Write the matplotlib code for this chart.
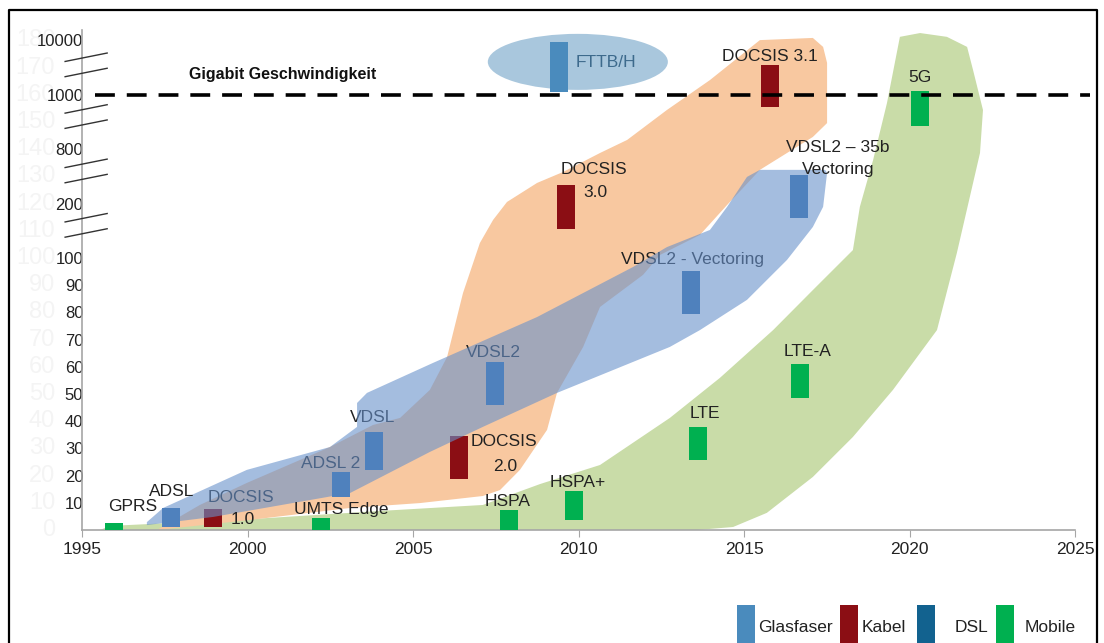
import matplotlib
matplotlib.use("Agg")
import matplotlib.pyplot as plt
from matplotlib.patches import Polygon, Ellipse, Rectangle
from matplotlib.lines import Line2D

plt.rcParams["font.family"] = ["Liberation Sans", "DejaVu Sans"]

# --- Daten -------------------------------------------------------------
# y-Achse ist eine "Anzeigeposition": 0..100 linear, darüber gestauchte Abschnitte
ytick_pos = [10, 20, 30, 40, 50, 60, 70, 80, 90, 100, 120, 140, 160, 180]
ytick_lab = ["10", "20", "30", "40", "50", "60", "70", "80", "90", "100",
             "200", "800", "1000", "10000"]
ghost_pos = list(range(0, 190, 10))
break_pos = [112, 132, 152, 171]
xticks = [1995, 2000, 2005, 2010, 2015, 2020, 2025]
gigabit_pos = 160

# Technologien (Balken)
bar_name = ["GPRS", "ADSL", "DOCSIS 1.0", "UMTS Edge", "ADSL 2", "VDSL", "DOCSIS 2.0",
            "VDSL2", "HSPA", "HSPA+", "DOCSIS 3.0", "FTTB/H", "VDSL2 - Vectoring",
            "LTE", "DOCSIS 3.1", "VDSL2 35b", "LTE-A", "5G"]
bar_year = [1995.97, 1997.69, 1998.96, 2002.22, 2002.82, 2003.82, 2006.39,
            2007.48, 2007.90, 2009.86, 2009.62, 2009.41, 2013.40,
            2013.61, 2015.79, 2016.66, 2016.69, 2020.32]
bar_low = [0, 1.1, 1.1, 0, 12.1, 22.0, 18.8, 46.0, 0, 3.7, 110.7, 161.0, 79.4,
           25.7, 155.5, 114.7, 48.5, 148.5]
bar_high = [2.6, 8.1, 7.7, 4.4, 21.3, 36.0, 34.6, 61.8, 7.4, 14.3, 126.8, 179.4, 95.2,
            37.9, 171.0, 130.5, 61.0, 161.4]
bar_tech = ["Mobile", "DSL", "Kabel", "Mobile", "DSL", "DSL", "Kabel",
            "DSL", "Mobile", "Mobile", "Kabel", "Glasfaser", "DSL",
            "Mobile", "Kabel", "DSL", "Mobile", "Mobile"]

# Beschriftungen: text, jahr, position, unter dem DSL-Band?
lab_text = ["GPRS", "ADSL", "DOCSIS", "1.0", "UMTS Edge", "ADSL 2", "VDSL",
            "DOCSIS", "2.0", "VDSL2", "HSPA", "HSPA+", "DOCSIS", "3.0", "FTTB/H",
            "VDSL2 - Vectoring", "LTE", "DOCSIS 3.1", "VDSL2 \u2013 35b", "Vectoring",
            "LTE-A", "5G"]
lab_year = [1996.54, 1997.72, 1999.80, 1999.86, 2002.82, 2002.52, 2003.79,
            2007.75, 2007.78, 2007.42, 2007.87, 2009.98, 2010.47, 2010.50, 2010.83,
            2013.43, 2013.82, 2015.79, 2017.84, 2017.84,
            2016.93, 2020.32]
lab_pos = [8.5, 14.3, 12.1, 3.7, 7.4, 24.3, 41.5,
           32.4, 23.5, 65.4, 10.3, 17.6, 132.4, 123.9, 171.7,
           99.3, 43.0, 173.9, 140.8, 132.7,
           65.8, 166.2]
lab_under = [False, False, True, False, False, True, True,
             False, False, True, False, False, False, False, False,
             True, False, False, False, False,
             False, False]

# Bänder (Jahr, Position)
kabel_x = [1997.36, 1998.56, 1999.98, 2002.49, 2003.79, 2004.61, 2005.51, 2006.03,
           2006.51, 2007.02, 2007.42, 2007.84, 2008.75, 2009.53, 2010.65, 2011.47,
           2012.67, 2013.97, 2015.48, 2017.08, 2017.39, 2017.51, 2017.51, 2017.08,
           2016.30, 2015.48, 2014.49, 2013.67, 2012.46, 2011.95, 2010.65, 2010.14,
           2009.35, 2009.05, 2008.23, 2007.63, 2007.11, 2005.21, 2003.10, 2000.08,
           1997.27]
kabel_y = [0.7, 9.2, 17.3, 30.5, 38.6, 41.2, 51.5, 63.6,
           87.1, 105.5, 114.0, 120.6, 127.6, 131.6, 138.6, 143.4,
           154.4, 165.4, 180.1, 180.9, 177.6, 171.7, 149.6, 144.5,
           138.6, 132.4, 119.5, 108.5, 101.1, 93.8, 82.0, 67.3,
           50.4, 36.8, 22.1, 14.7, 12.5, 9.9, 8.1, 3.7,
           0.0]

dsl_x = [1996.96, 1998.96, 2003.10, 2005.51, 2007.11, 2009.35, 2012.76, 2013.67,
         2015.09, 2016.30, 2017.08, 2017.39, 2017.51, 2017.45, 2015.48, 2015.09,
         2014.49, 2013.97, 2012.67, 2011.65, 2008.75, 2005.60, 2003.61, 2003.31,
         2003.31, 2002.49, 1999.98, 1997.45, 1996.96]
dsl_y = [1.8, 4.8, 13.6, 28.7, 37.9, 50.4, 67.3, 73.5,
         84.6, 99.3, 111.4, 118.8, 131.3, 132.4, 132.4, 129.8,
         118.8, 110.3, 104.0, 96.7, 78.3, 61.4, 50.4, 46.7,
         37.9, 30.5, 22.1, 8.1, 2.9]

mobil_x = [1995.54, 1995.85, 2000.08, 2004.00, 2007.11, 2008.84, 2010.65, 2012.76,
           2014.27, 2015.88, 2017.08, 2018.29, 2018.50, 2018.90, 2019.32, 2019.71,
           2020.32, 2021.13, 2021.74, 2021.92, 2022.22, 2022.13, 2021.43, 2020.83,
           2019.50, 2018.29, 2017.08, 2015.69, 2014.67, 2013.58]
mobil_y = [0, 1.5, 4.0, 7.0, 9.2, 16.9, 23.9, 41.2,
           55.9, 73.5, 88.2, 102.9, 118.8, 136.0, 157.0, 181.3,
           182.7, 181.3, 177.6, 169.1, 154.4, 138.6, 101.8, 73.5,
           51.5, 34.2, 19.5, 6.3, 1.1, 0]

# FTTB/H-Ellipse
glas_center = (2009.98, 172.1)
glas_w, glas_h = 5.44, 20.6

farben_balken = {"Glasfaser": "#4a8bbd", "Kabel": "#8b0e14",
                 "DSL": "#4f81bd", "Mobile": "#00b050"}
leg_tech = ["Glasfaser", "Kabel", "DSL", "Mobile"]
leg_farbe = ["#4a8bbd", "#8b0e14", "#12628f", "#00b050"]

# --- Figur -------------------------------------------------------------
W, H = 1104, 643
fig = plt.figure(figsize=(W / 100, H / 100), dpi=100)
ax = fig.add_axes([82 / W, 1 - 530 / H, (1075 - 82) / W, (530 - 29.5) / H])
ax.set_xlim(1995, 2025)
ax.set_ylim(0, 184)

# Bänder
ax.add_patch(Polygon(list(zip(mobil_x, mobil_y)), closed=True,
                     facecolor="#c9dca8", edgecolor="none", zorder=1))
ax.add_patch(Polygon(list(zip(kabel_x, kabel_y)), closed=True,
                     facecolor="#f8c8a0", edgecolor="none", zorder=1))
ax.add_patch(Polygon(list(zip(dsl_x, dsl_y)), closed=True,
                     facecolor="#6791cb", alpha=0.6, edgecolor="none", zorder=4))
ax.add_patch(Ellipse(glas_center, glas_w, glas_h, facecolor="#a9c7dd",
                     edgecolor="none", zorder=1))

# Balken
for yr, lo, hi, tech in zip(bar_year, bar_low, bar_high, bar_tech):
    z = 3 if tech == "Kabel" else 5
    ax.bar(yr, hi - lo, bottom=lo, width=0.55, color=farben_balken[tech],
           edgecolor="none", zorder=z)

# Beschriftungen
for t, yr, p, under in zip(lab_text, lab_year, lab_pos, lab_under):
    col = "#3d6a8c" if t == "FTTB/H" else "#222222"
    ax.text(yr, p, t, ha="center", va="center", fontsize=12.5, color=col,
            zorder=3 if under else 6)

ax.text(1998.23, 167.6, "Gigabit Geschwindigkeit", ha="left", va="center",
        fontsize=11.5, fontweight="bold", color="#111111", zorder=6)

# Gigabit-Linie
ax.plot([1995.4, 2025.45], [gigabit_pos, gigabit_pos], color="black", lw=2.6,
        dashes=(5.5, 3.3), clip_on=False, zorder=7)

# Achsenbrüche
for p in break_pos:
    for off in (-2.8, 2.8):
        ax.plot([1994.49, 1995.76], [p + off - 1.55, p + off + 1.55],
                color="#333333", lw=1, clip_on=False, zorder=7)

# blasse Hintergrund-Beschriftung (ursprüngliche lineare Achse)
for v in ghost_pos:
    ax.text(-0.027, v, str(v), transform=ax.get_yaxis_transform(), ha="right",
            va="center", fontsize=17, color="#f4f4f4", zorder=0, clip_on=False)

# Achsen
for s in ["top", "right"]:
    ax.spines[s].set_visible(False)
for s in ["left", "bottom"]:
    ax.spines[s].set_color("#a6a6a6")
    ax.spines[s].set_linewidth(1.2)
ax.set_xticks(xticks)
ax.set_xticklabels([str(x) for x in xticks], fontsize=12.5, color="#222222")
ax.tick_params(axis="x", length=5, color="#a6a6a6", pad=4)
ax.set_yticks(ytick_pos)
ax.set_yticklabels(ytick_lab, fontsize=12, color="#222222")
ax.tick_params(axis="y", length=0, pad=-1)
ax.patch.set_alpha(0)

# Legende (unten rechts, abgeschnitten)
leg_patch_x = [737, 840, 917, 996]
leg_text_x = [758, 862, 955, 1025]
for tech, col, px, tx in zip(leg_tech, leg_farbe, leg_patch_x, leg_text_x):
    fig.add_artist(Rectangle((px / W, -0.02), 18 / W, (643 - 605) / H + 0.02,
                             transform=fig.transFigure, facecolor=col,
                             edgecolor="none"))
    fig.text(tx / W, 1 - 627 / H, tech, ha="left", va="center", fontsize=12.5,
             color="#222222")

# Rahmen
rx0, rx1, ry = 8.5 / W, 1097 / W, 1 - 10 / H
fig.add_artist(Line2D([rx0, rx0, rx1, rx1], [0, ry, ry, 0],
                      transform=fig.transFigure, color="black", lw=1.6))

fig.savefig("out.png", dpi=100, facecolor="white")
